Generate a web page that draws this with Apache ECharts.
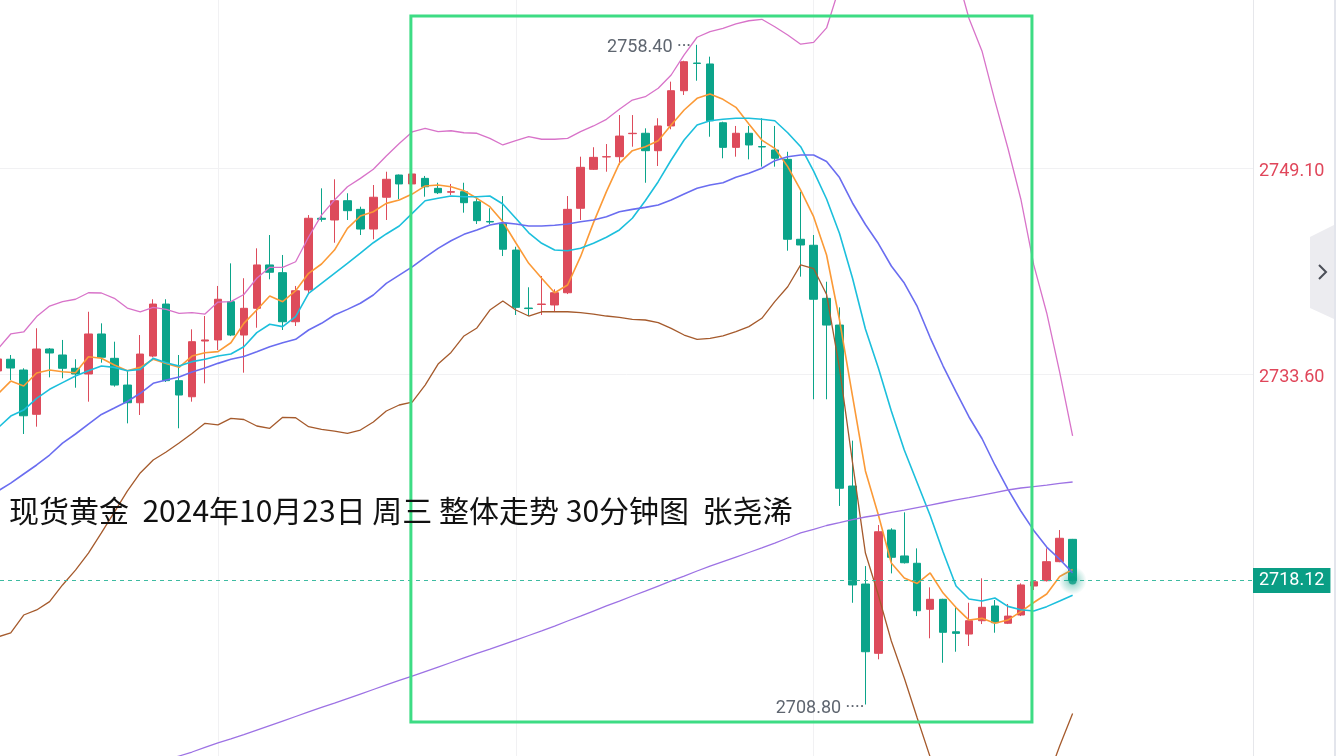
<!DOCTYPE html>
<html><head><meta charset="utf-8">
<script src="https://cdn.jsdelivr.net/npm/echarts@6/dist/echarts.min.js"></script>
<style>html,body{margin:0;padding:0;background:#fff;overflow:hidden}#c{width:1344px;height:756px}</style>
</head><body><div id="c"></div>
<script>
// ---- data (30-minute spot gold candles) ----
const opens = [2733.88,2734.76,2733.95,2730.62,2735.53,2735.08,2734.08,2733.65,2736.66,2734.83,2732.82,2731.49,2735.00,2738.91,2733.15,2731.94,2736.13,2736.21,2739.09,2736.58,2738.59,2741.85,2741.27,2737.58,2739.97,2745.36,2745.23,2746.68,2746.03,2744.55,2746.94,2748.61,2747.94,2748.36,2747.61,2747.32,2747.36,2746.60,2745.12,2744.98,2742.97,2738.61,2738.88,2738.84,2739.76,2746.11,2749.04,2749.97,2749.99,2751.72,2751.75,2750.44,2752.30,2754.95,2757.03,2756.96,2752.54,2750.69,2751.75,2750.75,2750.49,2749.79,2743.78,2743.33,2739.34,2737.33,2725.23,2717.86,2712.65,2721.92,2719.97,2719.42,2715.96,2716.71,2714.27,2714.10,2715.10,2716.21,2714.91,2715.53,2717.71,2718.11,2719.54,2721.22];
const closes = [2734.78,2734.10,2730.51,2735.53,2735.23,2734.08,2733.65,2736.66,2734.91,2732.82,2731.49,2735.15,2738.91,2733.15,2732.07,2736.08,2736.21,2739.27,2736.58,2738.59,2741.85,2741.30,2737.58,2739.91,2745.36,2745.28,2746.68,2745.93,2744.55,2746.94,2748.29,2747.94,2748.69,2747.73,2747.28,2747.36,2746.53,2745.18,2745.08,2743.03,2738.66,2738.57,2738.91,2739.76,2746.03,2749.19,2749.94,2749.99,2751.54,2751.75,2750.44,2752.30,2754.95,2757.13,2757.00,2752.69,2750.69,2751.75,2750.87,2750.72,2749.87,2743.78,2743.35,2739.27,2737.33,2725.06,2717.79,2712.77,2721.79,2719.87,2719.46,2715.85,2716.71,2714.23,2714.15,2715.10,2716.11,2714.95,2715.45,2717.79,2718.03,2719.54,2721.30,2718.12];
const lows = [2733.57,2733.20,2729.14,2729.69,2733.40,2733.33,2732.62,2731.57,2734.50,2732.70,2729.94,2730.57,2734.90,2733.05,2729.57,2731.57,2732.95,2735.45,2736.50,2733.75,2737.13,2740.77,2736.96,2737.26,2739.72,2745.10,2743.52,2745.23,2744.10,2743.78,2745.23,2746.79,2746.81,2746.98,2747.18,2747.11,2745.78,2744.93,2744.93,2742.52,2738.09,2738.01,2738.09,2738.33,2739.66,2745.23,2748.99,2748.86,2749.36,2750.74,2748.03,2749.29,2752.05,2754.63,2755.70,2751.49,2749.87,2749.99,2749.79,2749.24,2749.24,2742.92,2740.97,2731.75,2731.75,2723.73,2716.45,2708.80,2712.20,2718.66,2719.40,2715.45,2713.78,2711.94,2712.77,2713.20,2714.85,2714.20,2714.85,2715.45,2717.41,2718.05,2719.50,2718.05];
const highs = [2735.08,2735.08,2734.08,2737.09,2735.60,2736.21,2734.76,2738.33,2737.46,2736.08,2733.95,2736.58,2739.27,2739.27,2735.08,2737.01,2738.01,2740.27,2741.97,2740.85,2743.10,2744.10,2742.60,2740.27,2745.60,2747.61,2748.29,2747.24,2746.23,2747.86,2748.86,2748.65,2748.84,2748.54,2748.03,2747.94,2748.03,2746.86,2746.11,2747.03,2743.22,2740.17,2741.02,2740.02,2747.03,2749.99,2750.70,2750.94,2753.12,2753.12,2752.12,2752.88,2755.63,2757.20,2758.40,2757.51,2752.62,2752.30,2752.30,2752.88,2752.30,2750.36,2747.36,2744.10,2740.59,2738.66,2728.64,2719.21,2722.30,2722.05,2723.25,2720.54,2717.61,2716.75,2716.11,2716.45,2718.29,2716.66,2716.36,2717.91,2718.16,2720.54,2721.92,2721.25];
// short moving average (orange)
const maShort = [2732.15,2733.12,2732.75,2733.73,2733.95,2733.82,2733.75,2734.95,2734.83,2734.33,2733.90,2734.15,2734.76,2734.45,2734.15,2735.00,2735.25,2735.33,2736.00,2737.46,2738.46,2739.51,2739.09,2739.91,2741.22,2741.92,2742.97,2744.60,2745.53,2745.85,2746.48,2746.73,2747.18,2747.79,2747.86,2747.73,2747.43,2746.86,2746.23,2745.10,2743.52,2741.97,2740.85,2739.76,2740.34,2742.47,2745.03,2747.36,2749.49,2750.44,2750.74,2751.19,2752.37,2753.50,2754.38,2754.70,2754.30,2753.70,2752.45,2751.24,2750.62,2749.24,2747.48,2745.48,2742.60,2737.71,2732.00,2726.36,2723.05,2719.44,2718.31,2717.90,2718.69,2717.18,2716.09,2715.15,2715.28,2714.91,2715.15,2715.78,2716.47,2717.11,2718.42,2718.95];
// medium moving average (cyan)
const maMid = [2729.59,2730.49,2730.94,2731.82,2732.50,2733.00,2733.50,2733.90,2734.25,2734.15,2733.90,2734.00,2734.83,2734.50,2734.25,2734.58,2734.76,2735.00,2735.15,2735.70,2736.76,2737.39,2737.21,2737.96,2739.72,2740.47,2741.22,2741.97,2742.73,2743.52,2744.18,2744.78,2745.73,2746.68,2746.86,2747.03,2746.98,2746.98,2747.03,2746.43,2745.36,2744.27,2743.48,2742.97,2742.92,2743.10,2743.48,2743.93,2744.48,2745.36,2746.68,2748.11,2749.74,2751.24,2752.37,2752.69,2752.80,2752.88,2752.88,2752.80,2752.69,2751.79,2750.74,2748.91,2746.81,2744.21,2740.87,2737.03,2734.10,2730.87,2727.94,2725.48,2723.01,2720.27,2717.71,2716.73,2716.58,2716.81,2716.18,2715.93,2715.83,2716.16,2716.58,2717.01];
// Bollinger middle (blue)
const bollMid = [2724.85,2725.45,2726.13,2726.81,2727.56,2728.46,2729.14,2729.89,2730.61,2731.09,2731.58,2732.20,2732.95,2733.20,2733.42,2733.80,2734.10,2734.45,2734.76,2734.97,2735.33,2735.70,2736.00,2736.26,2736.96,2737.46,2738.09,2738.51,2738.97,2739.59,2740.47,2741.09,2741.70,2742.42,2743.10,2743.67,2744.15,2744.48,2744.85,2745.03,2744.93,2744.78,2744.78,2744.83,2744.93,2745.10,2745.23,2745.48,2745.85,2746.03,2746.18,2746.36,2746.73,2747.18,2747.61,2747.86,2748.03,2748.44,2748.74,2749.12,2749.69,2749.99,2750.12,2750.12,2749.63,2748.42,2746.51,2744.89,2743.46,2741.77,2740.49,2738.73,2736.39,2734.25,2732.30,2730.42,2728.80,2726.81,2725.00,2723.35,2721.89,2720.64,2719.72,2718.70];
// Bollinger upper (pink)
const bollUp = [2735.53,2736.66,2736.81,2737.97,2738.76,2739.10,2739.27,2739.76,2739.74,2739.34,2738.61,2738.33,2738.66,2738.51,2738.21,2738.26,2738.16,2739.06,2739.09,2739.63,2740.85,2741.67,2741.67,2742.09,2743.95,2745.60,2746.73,2747.73,2748.36,2749.04,2750.04,2750.98,2751.85,2752.12,2751.87,2751.94,2751.79,2751.75,2751.37,2750.87,2751.19,2751.49,2751.30,2751.30,2751.37,2751.87,2752.30,2752.80,2753.55,2754.25,2754.50,2755.13,2756.13,2757.64,2758.97,2759.39,2759.64,2759.97,2760.21,2760.32,2759.76,2759.14,2758.45,2758.58,2759.67,2762.75,2765.98,2769.59,2769.89,2769.97,2770.19,2769.67,2767.94,2766.51,2763.88,2760.38,2757.94,2754.18,2750.64,2746.81,2741.85,2738.24,2733.80,2728.99];
// Bollinger lower (brown)
const bollDn = [2713.88,2714.18,2715.53,2715.91,2716.54,2717.79,2718.91,2720.19,2721.70,2723.27,2724.85,2726.21,2727.18,2727.79,2728.46,2729.18,2729.94,2729.82,2730.32,2730.23,2729.74,2729.57,2730.39,2730.36,2729.69,2729.49,2729.36,2729.19,2729.44,2730.04,2730.87,2731.32,2731.54,2732.82,2734.40,2735.27,2736.51,2737.11,2738.46,2739.14,2738.46,2738.01,2738.33,2738.33,2738.33,2738.26,2738.16,2738.01,2737.91,2737.76,2737.71,2737.51,2737.08,2736.58,2736.26,2736.33,2736.51,2736.83,2737.21,2737.84,2739.09,2740.21,2741.85,2741.58,2739.63,2734.10,2727.03,2720.19,2717.03,2713.58,2710.79,2707.79,2704.85,2702.00,2700.72,2700.49,2699.67,2699.44,2699.36,2699.89,2701.92,2703.05,2705.68,2708.12];
// long moving average (purple)
const maLong = [2700.27,2700.57,2700.87,2701.24,2701.54,2701.92,2702.22,2702.60,2702.90,2703.27,2703.58,2703.95,2704.25,2704.63,2704.93,2705.23,2705.57,2705.91,2706.21,2706.54,2706.88,2707.22,2707.56,2707.90,2708.24,2708.58,2708.91,2709.25,2709.59,2709.93,2710.27,2710.61,2710.94,2711.28,2711.62,2711.96,2712.30,2712.64,2712.97,2713.31,2713.65,2713.99,2714.33,2714.70,2715.08,2715.45,2715.83,2716.21,2716.58,2716.96,2717.33,2717.71,2718.09,2718.46,2718.84,2719.21,2719.55,2719.89,2720.23,2720.57,2720.94,2721.32,2721.70,2721.96,2722.26,2722.48,2722.71,2722.90,2723.05,2723.24,2723.42,2723.61,2723.80,2723.99,2724.18,2724.36,2724.55,2724.74,2724.93,2725.08,2725.19,2725.30,2725.42,2725.53];
const yTickLabels = [2749.10, 2733.60];
const lastPrice = 2718.12;
const maxHigh = 2758.40, maxIdx = 54;
const minLow = 2708.80, minIdx = 67;
const timeGridIdx = [17, 40, 63];
const titleText = '现货黄金  2024年10月23日 周三 整体走势 30分钟图  张尧浠';
const boxRange = {x0: 31.9, x1: 79.86, yTop: 2760.57, yBottom: 2707.48};

// ---- chart ----
const UP = '#dd4b5b', DOWN = '#0ba48a';
const idx = opens.map((_, i) => i);
const kData = idx.map(i => [i, opens[i], closes[i], lows[i], highs[i]]);
const ln = arr => arr.map((v, i) => [i, v]);
const FONT = 'Roboto, "Noto Sans", sans-serif';

const chart = echarts.init(document.getElementById('c'), null, {renderer: 'canvas'});
function lineSeries(name, arr, color, w) {
  return {name, type: 'line', data: ln(arr), showSymbol: false, symbol: 'none', smooth: false,
    lineStyle: {color, width: w}, itemStyle: {color}, z: 3, silent: true, animation: false};
}
chart.setOption({
  animation: false,
  backgroundColor: '#fff',
  grid: {left: 0, right: 91, top: 0, bottom: 0, containLabel: false},
  xAxis: {type: 'value', min: 0.17, max: 96.93, show: false, splitLine: {show: false}},
  yAxis: {type: 'value', position: 'right', min: 2704.93, max: 2761.77, scale: true,
    splitLine: {show: false}, axisLabel: {show: false}, axisTick: {show: false},
    axisLine: {show: true, lineStyle: {color: '#e6e7eb', width: 1}}},
  graphic: [
    {type: 'rect', shape: {x: 1334, y: 0, width: 2, height: 756}, style: {fill: '#e3e5ec'}, silent: true},
    {type: 'polygon', shape: {points: [[1310, 237], [1334, 225], [1334, 319], [1310, 308]]}, style: {fill: '#ececf0'}, silent: true},
    {type: 'polyline', shape: {points: [[1319, 265], [1326, 272], [1319, 279]]}, style: {stroke: '#4b4f58', lineWidth: 2, fill: null}, silent: true},
    {type: 'text', x: 9, y: 511, style: {text: titleText, font: '30px "Noto Sans CJK SC"', fill: '#111', textVerticalAlign: 'middle'}, z: 20, silent: true}
  ],
  series: [
    {type: 'line', data: [], silent: true, z: 0,
      markLine: {z: 1, silent: true, symbol: 'none', animation: false,
        lineStyle: {color: '#f1f1f3', width: 1, type: 'solid'},
        label: {show: true, position: 'end', distance: 6, color: '#e0465a', fontSize: 18, fontFamily: FONT,
          offset: [0, 3], formatter: p => p.value.toFixed(2)},
        data: yTickLabels.map(v => ({yAxis: v})).concat(
          timeGridIdx.map(v => ({xAxis: v, label: {show: false}})))}},
    {name: 'K', type: 'candlestick', data: kData, barWidth: 8, z: 2, silent: true,
      itemStyle: {color: UP, color0: DOWN, borderColor: UP, borderColor0: DOWN, borderWidth: 1},
      markLine: {z: 5, silent: true, symbol: 'none', animation: false,
        data: [{yAxis: lastPrice}],
        lineStyle: {color: '#3dbba1', width: 1, type: [4, 4]},
        label: {show: true, position: 'end', distance: 0, color: '#fff', backgroundColor: '#0a9e85',
          padding: [4, 6, 3, 6], fontSize: 18, fontFamily: FONT, formatter: p => p.value.toFixed(2)}},
      markPoint: {symbol: 'circle', symbolSize: 0, silent: true, animation: false,
        label: {show: true, position: 'left', distance: 6, color: '#5f6670', fontSize: 18, fontFamily: FONT},
        data: [
          {coord: [maxIdx, maxHigh], value: maxHigh, label: {formatter: p => p.value.toFixed(2) + ' ···', offset: [0, 3]}},
          {coord: [minIdx, minLow], value: minLow, label: {formatter: p => p.value.toFixed(2) + ' ····', offset: [0, 4], distance: 1}}
        ]}},
    lineSeries('MA short', maShort, '#fb9a37', 1.6),
    lineSeries('MA mid', maMid, '#1cbfdc', 1.6),
    lineSeries('BOLL mid', bollMid, '#6a6df0', 1.6),
    lineSeries('BOLL up', bollUp, '#d873c9', 1.3),
    lineSeries('BOLL dn', bollDn, '#a55a2c', 1.3),
    lineSeries('MA long', maLong, '#9d72e4', 1.3),
    {type: 'scatter', data: [[idx.length - 1, lastPrice]], symbolSize: 28, silent: true, z: 6,
      itemStyle: {color: {type: 'radial', x: 0.5, y: 0.5, r: 0.5,
        colorStops: [{offset: 0, color: 'rgba(10,158,133,0.75)'}, {offset: 0.45, color: 'rgba(10,158,133,0.35)'}, {offset: 1, color: 'rgba(10,158,133,0)'}]}}},
    {type: 'scatter', data: [[idx.length - 1, lastPrice]], symbolSize: 8, silent: true, z: 7,
      itemStyle: {color: '#0a9e85'}},
    {type: 'line', data: [], silent: true, z: 8,
      markArea: {z: 8, silent: true, animation: false,
        itemStyle: {color: 'rgba(0,0,0,0)', borderColor: '#3ddc84', borderWidth: 3},
        data: [[{coord: [boxRange.x0, boxRange.yTop]}, {coord: [boxRange.x1, boxRange.yBottom]}]]}}
  ]
});
</script></body></html>
